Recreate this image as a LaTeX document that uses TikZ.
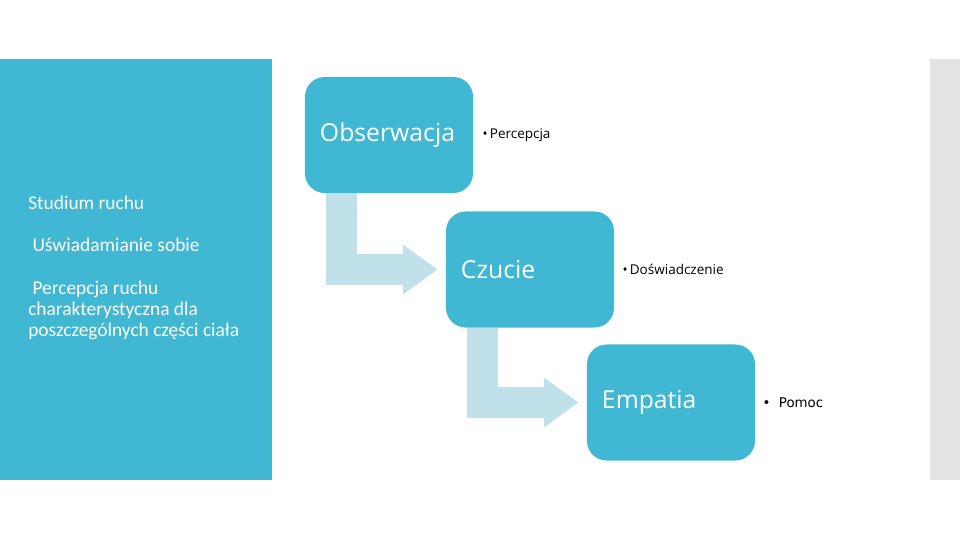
\documentclass[tikz,border=0pt]{standalone}
\usepackage{fontspec}
\setmainfont{Open Sans}
\newfontfamily\panelfont{Carlito}
\newfontfamily\pomocfont{DejaVu Sans}
\usetikzlibrary{positioning, calc, arrows.meta}

\definecolor{tealbox}{RGB}{65,184,211}
\definecolor{arrowblue}{RGB}{192,224,234}
\definecolor{sidegray}{RGB}{227,227,227}

\begin{document}
\begin{tikzpicture}[
    x=0.025cm, y=-0.025cm,
    stage/.style={rectangle, rounded corners=14pt, fill=tealbox, text=white, minimum height=2.9cm, text width=3.45cm, inner xsep=0.375cm, align=left, font=\fontsize{17.6}{21}\selectfont},
    point/.style={anchor=west, inner sep=0pt, font=\fontsize{9.6}{11}\selectfont},
    paneltext/.style={anchor=north west, inner sep=0pt, text=white, align=left, font=\panelfont\fontsize{13.8}{15}\selectfont},
    bentarrow/.style={draw=arrowblue, line width=22pt, line join=miter, shorten >=5.7pt, -{Triangle[length=24.8pt, width=34pt, color=arrowblue]}}
]

\useasboundingbox (0,0) rectangle (960,540);

% Left panel and grey side bar
\fill[tealbox] (0,59) rectangle (272,480);
\fill[sidegray] (930,59) rectangle (960,480);

% Left panel texts
\node[paneltext] (studium) at (28,196) {Studium ruchu};
\node[paneltext] (uswiad) at (28,238) {\hspace{3pt}Uświadamianie sobie};
\node[paneltext] (percepcja_ruchu) at (28,281) {\hspace{3pt}Percepcja ruchu\\charakterystyczna dla\\poszczególnych części ciała};

% Process stages
\node[stage] (obserwacja) at (389,135) {Obserwacja};
\node[stage] (czucie) at (530,269.5) {Czucie};
\node[stage] (empatia) at (671,402.5) {Empatia};

% Stage notes
\node[point, right=9 of obserwacja] (percepcja) {\textbullet\,Percepcja};
\node[point, right=8 of czucie] (doswiadczenie) {\textbullet\,Doświadczenie};
\node[point, right=7 of empatia, font=\pomocfont\fontsize{9.5}{11}\selectfont] (pomoc) {\textbullet\ \ Pomoc};

% Bent arrows between stages
\draw[bentarrow] ($(obserwacja.south west)+(36.5,0)$) |- (czucie.west);
\draw[bentarrow] ($(czucie.south west)+(36.5,0)$) |- (empatia.west);

\end{tikzpicture}
\end{document}
